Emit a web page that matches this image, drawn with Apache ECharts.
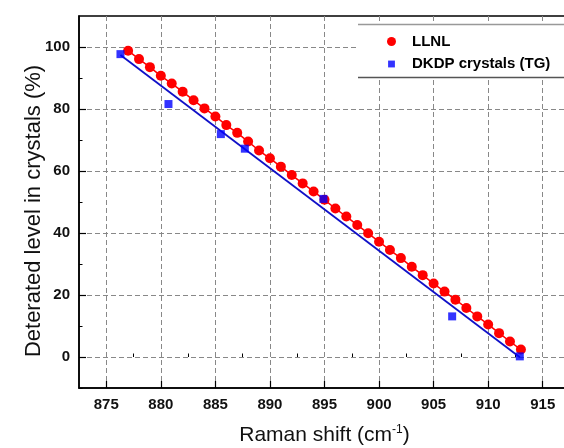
<!DOCTYPE html>
<html>
<head>
<meta charset="utf-8">
<script src="https://cdn.jsdelivr.net/npm/echarts@6/dist/echarts.min.js"></script>
<style>
  html, body { margin: 0; padding: 0; background: #fff; }
  #main { width: 564px; height: 448px; }
</style>
</head>
<body>
<div id="main"></div>
<script>

// LLNL (red circles), 877..913 cm-1
var llnlShift = [877, 878, 879, 880, 881, 882, 883, 884, 885, 886, 887, 888, 889, 890, 891, 892, 893, 894, 895,
    896, 897, 898, 899, 900, 901, 902, 903, 904, 905, 906, 907, 908, 909, 910, 911, 912, 913];
var llnlLevel = [98.8, 96.1, 93.5, 90.7, 88.2, 85.6, 82.8, 80.2, 77.6, 74.8, 72.3, 69.5, 66.6, 64.1, 61.4, 58.7, 56.0, 53.4, 50.7,
    47.9, 45.3, 42.6, 39.9, 37.2, 34.5, 31.9, 29.1, 26.4, 23.7, 21.1, 18.5, 15.8, 13.1, 10.5, 7.7, 5.0, 2.4];

// DKDP crystals (TG), blue squares
var tgShift = [876.3, 880.7, 885.5, 887.7, 894.9, 906.7, 912.9];
var tgLevel = [97.7, 81.6, 71.9, 67.2, 51.0, 13.1, 0.2];

// linear fit of TG points
var fitShift = [876.3, 912.9];
var fitLevel = [97.4, -0.1];

var xMajor = [875, 880, 885, 890, 895, 900, 905, 910, 915];
var xMinor = [877.5, 882.5, 887.5, 892.5, 897.5, 902.5, 907.5, 912.5];
var yMajor = [0, 20, 40, 60, 80, 100];
var yMinor = [-10, 10, 30, 50, 70, 90];

function pairs(xs, ys) {
    var out = [];
    for (var i = 0; i < xs.length; i++) {
        out.push([xs[i], ys[i]]);
    }
    return out;
}

var chart = echarts.init(document.getElementById('main'));

var font = 'Liberation Sans, Arial, sans-serif';

var option = {
    backgroundColor: '#fff',
    animation: false,
    grid: {
        left: 79,
        right: -6,
        top: 16,
        bottom: 60,
        containLabel: false,
        outerBoundsMode: 'none',
        show: true,
        borderColor: '#000',
        borderWidth: 1.5,
        backgroundColor: 'transparent'
    },
    graphic: [{
        type: 'rect',
        z: 1,
        shape: { x: 358, y: 24, width: 220, height: 53 },
        style: { fill: '#fff' }
    }, {
        type: 'line',
        z: 1,
        shape: { x1: 358, y1: 24.5, x2: 564, y2: 24.5 },
        style: { stroke: '#999', lineWidth: 1.5 }
    }, {
        type: 'line',
        z: 1,
        shape: { x1: 358, y1: 77.5, x2: 564, y2: 77.5 },
        style: { stroke: '#555', lineWidth: 1.5 }
    }],
    legend: {
        orient: 'vertical',
        left: 387,
        top: 34,
        itemWidth: 31,
        itemHeight: 9,
        itemGap: 7.5,
        padding: 0,
        symbolKeepAspect: true,
        textStyle: {
            fontFamily: font,
            fontSize: 15,
            fontWeight: 'bold',
            color: '#000'
        },
        data: [
            { name: 'LLNL', icon: 'circle' },
            { name: 'DKDP crystals (TG)', icon: 'path://M0 0M10 10M1.2 1.2H8.8V8.8H1.2Z' }
        ]
    },
    xAxis: [{
        type: 'value',
        min: 872.5,
        max: 917.5,
        position: 'bottom',
        name: 'Raman shift (cm{sup|-1})',
        nameLocation: 'middle',
        nameGap: 36,
        nameMoveOverlap: false,
        nameTextStyle: {
            fontFamily: font,
            fontSize: 21,
            color: '#111',
            rich: {
                sup: { fontFamily: font, fontSize: 12, color: '#111', verticalAlign: 'top', padding: [0, 0, 10, 0] }
            }
        },
        axisLine: { onZero: false, lineStyle: { color: '#000', width: 1.5 } },
        axisTick: { show: true, inside: true, length: 7, customValues: xMajor, lineStyle: { color: '#000', width: 1.2 } },
        axisLabel: {
            customValues: xMajor,
            margin: 9,
            fontFamily: font,
            fontSize: 15,
            fontWeight: 'bold',
            color: '#111'
        },
        splitLine: { show: true, lineStyle: { color: '#888', type: [5, 3], width: 1 } }
    }, {
        type: 'value',
        min: 872.5,
        max: 917.5,
        position: 'bottom',
        axisLine: { show: false },
        axisTick: { inside: true, length: 3.5, customValues: xMinor, lineStyle: { color: '#000', width: 1 } },
        axisLabel: { show: false },
        splitLine: { show: false }
    }],
    yAxis: [{
        type: 'value',
        min: -10,
        max: 110,
        position: 'left',
        name: 'Deterated level in crystals (%)',
        nameLocation: 'middle',
        nameGap: 34,
        nameMoveOverlap: false,
        nameTextStyle: {
            fontFamily: font,
            fontSize: 22,
            color: '#111',
            padding: [0, 18, 0, 0]
        },
        axisLine: { onZero: false, lineStyle: { color: '#000', width: 1.5 } },
        axisTick: { show: true, inside: true, length: 7, customValues: yMajor, lineStyle: { color: '#000', width: 1.2 } },
        axisLabel: {
            customValues: yMajor,
            margin: 9,
            fontFamily: font,
            fontSize: 15,
            fontWeight: 'bold',
            color: '#111'
        },
        splitLine: { show: true, lineStyle: { color: '#888', type: [5, 3], width: 1 } }
    }, {
        type: 'value',
        min: -10,
        max: 110,
        position: 'left',
        axisLine: { show: false },
        axisTick: { inside: true, length: 3.5, customValues: yMinor, lineStyle: { color: '#000', width: 1 } },
        axisLabel: { show: false },
        splitLine: { show: false }
    }],
    series: [{
        name: 'LLNL',
        type: 'line',
        data: pairs(llnlShift, llnlLevel),
        symbol: 'circle',
        symbolSize: 10,
        showAllSymbol: true,
        z: 3,
        lineStyle: { color: '#ff0000', width: 1.5 },
        itemStyle: { color: '#ff0000' }
    }, {
        name: 'fit',
        type: 'line',
        data: pairs(fitShift, fitLevel),
        showSymbol: false,
        symbol: 'none',
        z: 2,
        lineStyle: { color: '#1010c8', width: 1.8 }
    }, {
        name: 'DKDP crystals (TG)',
        type: 'scatter',
        data: pairs(tgShift, tgLevel),
        symbol: 'rect',
        symbolSize: 8,
        z: 4,
        itemStyle: { color: '#0000ff' }
    }]
};

chart.setOption(option);

</script>
</body>
</html>
